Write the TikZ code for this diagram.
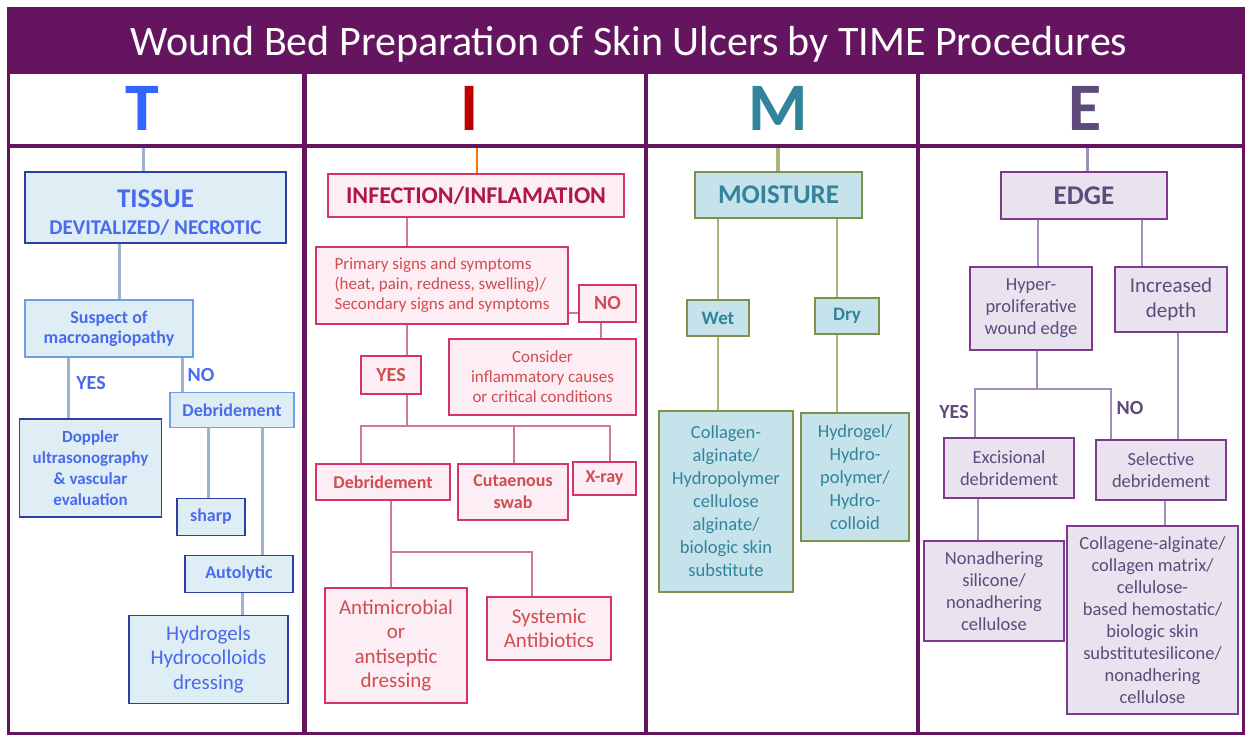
\documentclass[tikz,border=0pt]{standalone}
\usepackage{fontspec}
\setmainfont{Carlito}
\usepackage{xcolor}
\usepackage{tikz}
\usetikzlibrary{calc,backgrounds}
\definecolor{frame}{HTML}{65155F}
\definecolor{tfill}{HTML}{DFEEF5}
\definecolor{tline}{HTML}{2D3FA6}
\definecolor{tlight}{HTML}{6E9FE6}
\definecolor{ttext}{HTML}{4A6AEC}
\definecolor{tletter}{HTML}{3366FF}
\definecolor{tconn}{HTML}{9CB4CF}
\definecolor{ifill}{HTML}{FDEDF4}
\definecolor{iline}{HTML}{D6336B}
\definecolor{ihead}{HTML}{AE1746}
\definecolor{itext}{HTML}{CF4E50}
\definecolor{iconn}{HTML}{CF7A8E}
\definecolor{mfill}{HTML}{C6E3EC}
\definecolor{mline}{HTML}{7A9348}
\definecolor{mtext}{HTML}{31849B}
\definecolor{mconn}{HTML}{A6B97A}
\definecolor{efill}{HTML}{E8E3EE}
\definecolor{eline}{HTML}{7E3A8E}
\definecolor{etext}{HTML}{5E4A7B}
\definecolor{econn}{HTML}{A48DB9}
\tikzstyle{centered} = [align=center, text centered]
\tikzstyle{cell} = [fill=white, inner sep=0pt]
\tikzset{
  % node styles
  sz/.style 2 args={minimum width=#1pt, minimum height=#2pt},
  box/.style={centered, draw, line width=1.5pt, inner sep=1pt},
  letter/.style={font=\bfseries\fontsize{68}{70}\selectfont},
  tbox/.style={box, fill=tfill, draw=tline, text=ttext, font=\bfseries\fontsize{17}{21}\selectfont},
  tlite/.style={tbox, draw=tlight, font=\bfseries\fontsize{18}{20}\selectfont},
  ibox/.style={box, fill=ifill, draw=iline, text=itext, font=\fontsize{17}{20}\selectfont},
  ibold/.style={ibox, font=\bfseries\fontsize{18}{22}\selectfont},
  mbox/.style={box, fill=mfill, draw=mline, text=mtext, font=\fontsize{18.5}{23}\selectfont},
  ebox/.style={box, fill=efill, draw=eline, text=etext, font=\fontsize{18.5}{22}\selectfont},
  big/.style={font=\fontsize{21}{24.5}\selectfont},
  yesno/.style={font=\bfseries\fontsize{20}{22}\selectfont, inner sep=0pt},
  % edge styles
  tedge/.style={draw=tconn, line width=3pt},
  iedge/.style={draw=iconn, line width=2pt},
  medge/.style={draw=mconn, line width=2pt},
  eedge/.style={draw=econn, line width=2pt},
}

\begin{document}
\begin{tikzpicture}[x=1pt, y=-1pt]
    \useasboundingbox (0,0) rectangle (1245,735);
    % frame and title
    \fill[frame] (7,7) rectangle (1245,735);
    \node(title)[text=white, font=\fontsize{42}{44}\selectfont] at (629,44) {Wound Bed Preparation of Skin Ulcers by TIME Procedures};
    % header cells
    \node(HT)[cell,sz={292}{70}] at (156,109) {};
    \node(HI)[cell,sz={337}{70}] at (475.5,109) {};
    \node(HM)[cell,sz={268}{70}] at (782,109) {};
    \node(HE)[cell,sz={322}{70}] at (1081,109) {};
    \node(LT)[letter,text=tletter] at (142,108) {T};
    \node(LI)[letter,text=red!75!black] at (470,108) {I};
    \node(LM)[letter,text=mtext] at (778,108) {M};
    \node(LE)[letter,text=etext] at (1085,108) {E};
    % body cells
    \node(BT)[cell,sz={292}{584}] at (156,440) {};
    \node(BI)[cell,sz={337}{584}] at (475.5,440) {};
    \node(BM)[cell,sz={268}{584}] at (782,440) {};
    \node(BE)[cell,sz={322}{584}] at (1081,440) {};

    % T column
    \node(TT)[tbox,sz={261}{71}] at (155.5,207.5) {\rule{0pt}{28pt}{\fontsize{27}{29}\selectfont TISSUE}\\[6pt]{\fontsize{21}{23}\selectfont DEVITALIZED/ NECROTIC}};
    \node(TS)[tlite,sz={168}{57}] at (109,328.5) {Suspect of\\macroangiopathy};
    \node(TD)[tlite,sz={124}{35}] at (232,410) {Debridement};
    \node(TDop)[tbox,sz={142}{98}] at (90.5,468) {Doppler\\ultrasonography\\\& vascular\\evaluation};
    \node(Tsh)[tbox,font=\bfseries\fontsize{18}{21}\selectfont,sz={68}{37}] at (211,517) {sharp};
    \node(Tau)[tbox,font=\bfseries\fontsize{18}{21}\selectfont,sz={108}{37}] at (239,574) {Autolytic};
    \node(Thy)[tbox,big,sz={159}{88}] at (208.5,659.5) {Hydrogels\\Hydrocolloids\\dressing};
    \node(TYes)[yesno,text=ttext] at (91,383) {YES};
    \node(TNo)[yesno,text=ttext] at (201,375) {NO};
    \draw[tedge] (143,0 |- BT.north) -- (143,0 |- TT.north);
    \draw[tedge] (119,0 |- TT.south) -- (119,0 |- TS.north);
    \draw[tedge] (68,0 |- TS.south) -- (68,0 |- TDop.north);
    \draw[tedge] (182,0 |- TS.south) -- (182,0 |- TD.north);
    \draw[tedge] (208,0 |- TD.south) -- (208,0 |- Tsh.north);
    \draw[tedge] (262,0 |- TD.south) -- (262,0 |- Tau.north);
    \draw[tedge] (242,0 |- Tau.south) -- (242,0 |- Thy.north);

    % I column
    \node(II)[ibox,text=ihead,font=\bfseries\fontsize{24}{26}\selectfont,sz={296}{43}] at (476,195.5) {INFECTION/INFLAMATION};
    \node(IP)[ibox,align=left,sz={252}{77}] at (442,285.5) {Primary signs and symptoms\\(heat, pain, redness, swelling)/\\Secondary signs and symptoms};
    \node(INo)[ibold,font=\bfseries\fontsize{20}{22}\selectfont,sz={57}{37}] at (607.5,303.5) {NO};
    \node(IC)[ibox,sz={187}{76}] at (542.5,377) {Consider\\inflammatory causes\\or critical conditions};
    \node(IY)[ibold,font=\bfseries\fontsize{20}{22}\selectfont,sz={60}{38}] at (391,375) {YES};
    \node(ID)[ibold,sz={134}{36}] at (383,482) {Debridement};
    \node(ICs)[ibold,sz={110}{56}] at (513,492) {Cutaenous\\swab};
    \node(IX)[ibold,sz={63}{33}] at (604.5,478.5) {X-ray};
    \node(IA)[ibox,big,sz={142}{115}] at (396,645.5) {Antimicrobial\\or\\antiseptic\\dressing};
    \node(ISy)[ibox,big,sz={124}{63}] at (549,628.5) {Systemic\\Antibiotics};
    \coordinate(IJ1) at (407,426);
    \coordinate(IJ2) at (391,552);
    \draw[iedge, draw=orange!90!red, line width=2.5pt] (477,0 |- BI.north) -- (477,0 |- II.north);
    \draw[iedge] (407,0 |- II.south) -- (407,0 |- IP.north);
    \draw[iedge] (IP.east |- 0,313) -- (INo.west |- 0,313);
    \draw[iedge] (601,0 |- INo.south) -- (601,0 |- IC.north);
    \draw[iedge] (407,0 |- IP.south) -- (407,0 |- IY.north);
    \draw[iedge] (407,0 |- IY.south) -- (IJ1);
    \draw[iedge] (361,0 |- ID.north) |- (IJ1) -| (610,0 |- IX.north);
    \draw[iedge] (IJ1 -| 514,0) -- (514,0 |- ICs.north);
    \draw[iedge] (391,0 |- ID.south) -- (IJ2);
    \draw[iedge] (391,0 |- IA.north) -- (IJ2) -| (532,0 |- ISy.north);

    % M column
    \node(MM)[mbox,font=\bfseries\fontsize{27}{29}\selectfont,sz={167}{46}] at (778.5,195) {MOISTURE};
    \node(MW)[mbox,font=\bfseries\fontsize{19}{21}\selectfont,sz={62}{36}] at (718,318) {Wet};
    \node(MD)[mbox,font=\bfseries\fontsize{19}{21}\selectfont,sz={64}{36}] at (847,316) {Dry};
    \node(MC)[mbox,sz={134}{181}] at (726,501.5) {Collagen-\\alginate/\\Hydropolymer\\cellulose\\alginate/\\biologic skin\\substitute};
    \node(MH)[mbox,sz={108}{128}] at (855,477) {Hydrogel/\\Hydro-\\polymer/\\Hydro-\\colloid};
    \draw[medge, line width=4pt] (778,0 |- BM.north) -- (778,0 |- MM.north);
    \draw[medge] (718,0 |- MM.south) -- (718,0 |- MW.north);
    \draw[medge] (837,0 |- MM.south) -- (837,0 |- MD.north);
    \draw[medge] (718,0 |- MW.south) -- (718,0 |- MC.north);
    \draw[medge] (837,0 |- MD.south) -- (837,0 |- MH.north);

    % E column
    \node(EE)[ebox,font=\bfseries\fontsize{27}{29}\selectfont,sz={166}{47}] at (1084,195.5) {EDGE};
    \node(EH)[ebox,sz={122}{83}] at (1031,308.5) {Hyper-\\proliferative\\wound edge};
    \node(EI)[ebox,big,sz={112}{65}] at (1171,299.5) {Increased\\depth};
    \node(EX)[ebox,sz={130}{60}] at (1009,468) {Excisional\\debridement};
    \node(ES)[ebox,sz={130}{60}] at (1161,470) {Selective\\debridement};
    \node(EN)[ebox,sz={140}{100}] at (994,591) {Nonadhering\\silicone/\\nonadhering\\cellulose};
    \node(EC)[ebox,sz={171}{188}] at (1152.5,620) {Collagene-alginate/\\collagen matrix/\\cellulose-\\based hemostatic/\\biologic skin\\substitutesilicone/\\nonadhering\\cellulose};
    \node(EYes)[yesno,text=etext] at (954,412) {YES};
    \node(ENo)[yesno,text=etext] at (1130,408) {NO};
    \coordinate(EJ) at (1037,389);
    \draw[eedge, line width=3pt] (1087,0 |- BE.north) -- (1087,0 |- EE.north);
    \draw[eedge] (1038,0 |- EE.south) -- (1038,0 |- EH.north);
    \draw[eedge] (1142,0 |- EE.south) -- (1142,0 |- EI.north);
    \draw[eedge] (1037,0 |- EH.south) -- (EJ);
    \draw[eedge] (975,0 |- EX.north) |- (EJ) -| (1111,0 |- ES.north);
    \draw[eedge] (1178,0 |- EI.south) -- (1178,0 |- ES.north);
    \draw[eedge] (978,0 |- EX.south) -- (978,0 |- EN.north);
    \draw[eedge] (1165,0 |- ES.south) -- (1165,0 |- EC.north);
\end{tikzpicture}
\end{document}
